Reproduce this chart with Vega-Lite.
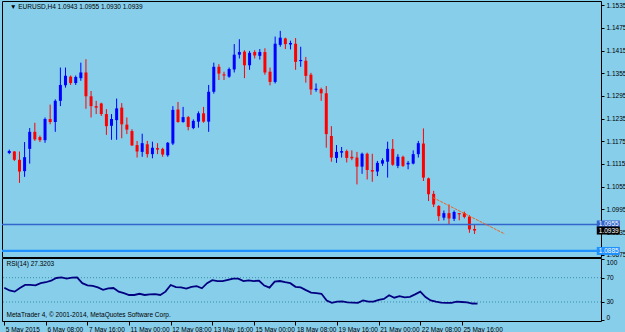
{
 "$schema": "https://vega.github.io/schema/vega-lite/v6.json",
 "background": "#87CEEB",
 "padding": 0,
 "spacing": 1,
 "bounds": "flush",
 "config": {
  "view": {"fill": "#87CEEB", "stroke": "#000000", "strokeWidth": 1},
  "font": "Liberation Sans",
  "axis": {"grid": false, "labelFont": "Liberation Sans", "labelFontSize": 6.5, "labelColor": "#000000", "tickColor": "#000000", "domainColor": "#000000", "tickSize": 3, "labelFlush": false, "labelOverlap": false, "labelBound": false}
 },
 "datasets": {
  "candles": [
   {"i":0,"o":1.1144,"h":1.1153,"l":1.1141,"c":1.1149,"rsi":53.5},
   {"i":1,"o":1.1148,"h":1.1149,"l":1.1123,"c":1.1126,"rsi":49},
   {"i":2,"o":1.1126,"h":1.1148,"l":1.1065,"c":1.1095,"rsi":47},
   {"i":3,"o":1.1096,"h":1.1173,"l":1.1081,"c":1.1133,"rsi":53},
   {"i":4,"o":1.1155,"h":1.1210,"l":1.1116,"c":1.1200,"rsi":58},
   {"i":5,"o":1.1200,"h":1.1224,"l":1.1176,"c":1.1180,"rsi":58},
   {"i":6,"o":1.1186,"h":1.1190,"l":1.1173,"c":1.1178,"rsi":57.5},
   {"i":7,"o":1.1178,"h":1.1238,"l":1.1171,"c":1.1234,"rsi":61},
   {"i":8,"o":1.1234,"h":1.1272,"l":1.1220,"c":1.1226,"rsi":62.5},
   {"i":9,"o":1.1226,"h":1.1286,"l":1.1200,"c":1.1282,"rsi":65},
   {"i":10,"o":1.1282,"h":1.1370,"l":1.1268,"c":1.1324,"rsi":69.5},
   {"i":11,"o":1.1323,"h":1.1370,"l":1.1317,"c":1.1348,"rsi":70.5},
   {"i":12,"o":1.1346,"h":1.1349,"l":1.1324,"c":1.1329,"rsi":68.5},
   {"i":13,"o":1.1329,"h":1.1349,"l":1.1324,"c":1.1345,"rsi":70},
   {"i":14,"o":1.1342,"h":1.1383,"l":1.1335,"c":1.1357,"rsi":70.5},
   {"i":15,"o":1.1357,"h":1.1392,"l":1.1261,"c":1.1294,"rsi":61},
   {"i":16,"o":1.1294,"h":1.1308,"l":1.1238,"c":1.1268,"rsi":57.5},
   {"i":17,"o":1.1268,"h":1.1282,"l":1.1247,"c":1.1264,"rsi":56.5},
   {"i":18,"o":1.1275,"h":1.1277,"l":1.1242,"c":1.1247,"rsi":54},
   {"i":19,"o":1.1247,"h":1.1260,"l":1.1192,"c":1.1215,"rsi":50},
   {"i":20,"o":1.1216,"h":1.1247,"l":1.1179,"c":1.1234,"rsi":52.5},
   {"i":21,"o":1.1231,"h":1.1288,"l":1.1179,"c":1.1262,"rsi":53},
   {"i":22,"o":1.1264,"h":1.1276,"l":1.1183,"c":1.1220,"rsi":47},
   {"i":23,"o":1.1219,"h":1.1238,"l":1.1194,"c":1.1206,"rsi":44.5},
   {"i":24,"o":1.1202,"h":1.1207,"l":1.1163,"c":1.1164,"rsi":41.5},
   {"i":25,"o":1.1165,"h":1.1176,"l":1.1132,"c":1.1148,"rsi":41.5},
   {"i":26,"o":1.1147,"h":1.1195,"l":1.1134,"c":1.1170,"rsi":43.5},
   {"i":27,"o":1.1167,"h":1.1176,"l":1.1132,"c":1.1141,"rsi":41.5},
   {"i":28,"o":1.1141,"h":1.1174,"l":1.1130,"c":1.1158,"rsi":42.5},
   {"i":29,"o":1.1157,"h":1.1170,"l":1.1141,"c":1.1153,"rsi":43},
   {"i":30,"o":1.1155,"h":1.1158,"l":1.1134,"c":1.1140,"rsi":41.5},
   {"i":31,"o":1.1138,"h":1.1173,"l":1.1134,"c":1.1171,"rsi":47},
   {"i":32,"o":1.1169,"h":1.1268,"l":1.1165,"c":1.1258,"rsi":58},
   {"i":33,"o":1.1259,"h":1.1279,"l":1.1224,"c":1.1226,"rsi":54.5},
   {"i":34,"o":1.1226,"h":1.1266,"l":1.1224,"c":1.1239,"rsi":54},
   {"i":35,"o":1.1239,"h":1.1242,"l":1.1204,"c":1.1213,"rsi":52},
   {"i":36,"o":1.1210,"h":1.1233,"l":1.1207,"c":1.1229,"rsi":55},
   {"i":37,"o":1.1227,"h":1.1254,"l":1.1211,"c":1.1249,"rsi":56},
   {"i":38,"o":1.1249,"h":1.1266,"l":1.1224,"c":1.1227,"rsi":52.5},
   {"i":39,"o":1.1227,"h":1.1324,"l":1.1200,"c":1.1306,"rsi":61},
   {"i":40,"o":1.1306,"h":1.1383,"l":1.1301,"c":1.1372,"rsi":66},
   {"i":41,"o":1.1372,"h":1.1379,"l":1.1337,"c":1.1354,"rsi":64.5},
   {"i":42,"o":1.1352,"h":1.1359,"l":1.1337,"c":1.1349,"rsi":64.5},
   {"i":43,"o":1.1346,"h":1.1370,"l":1.1343,"c":1.1366,"rsi":66.5},
   {"i":44,"o":1.1365,"h":1.1432,"l":1.1357,"c":1.1404,"rsi":68.5},
   {"i":45,"o":1.1404,"h":1.1445,"l":1.1394,"c":1.1411,"rsi":68.5},
   {"i":46,"o":1.1412,"h":1.1416,"l":1.1342,"c":1.1376,"rsi":64.5},
   {"i":47,"o":1.1376,"h":1.1414,"l":1.1364,"c":1.1409,"rsi":65.5},
   {"i":48,"o":1.1411,"h":1.1416,"l":1.1394,"c":1.1402,"rsi":64.5},
   {"i":49,"o":1.1401,"h":1.1419,"l":1.1391,"c":1.1411,"rsi":65},
   {"i":50,"o":1.1411,"h":1.1421,"l":1.1351,"c":1.1357,"rsi":57},
   {"i":51,"o":1.1359,"h":1.1370,"l":1.1323,"c":1.1332,"rsi":53.5},
   {"i":52,"o":1.1332,"h":1.1452,"l":1.1328,"c":1.1433,"rsi":63.5},
   {"i":53,"o":1.1430,"h":1.1467,"l":1.1425,"c":1.1449,"rsi":64.5},
   {"i":54,"o":1.1447,"h":1.1449,"l":1.1419,"c":1.1432,"rsi":62.5},
   {"i":55,"o":1.1431,"h":1.1441,"l":1.1418,"c":1.1435,"rsi":61},
   {"i":56,"o":1.1433,"h":1.1448,"l":1.1364,"c":1.1385,"rsi":55},
   {"i":57,"o":1.1387,"h":1.1425,"l":1.1372,"c":1.1390,"rsi":54},
   {"i":58,"o":1.1388,"h":1.1398,"l":1.1330,"c":1.1348,"rsi":49.5},
   {"i":59,"o":1.1351,"h":1.1356,"l":1.1298,"c":1.1312,"rsi":45.5},
   {"i":60,"o":1.1311,"h":1.1328,"l":1.1306,"c":1.1314,"rsi":44.5},
   {"i":61,"o":1.1313,"h":1.1317,"l":1.1282,"c":1.1302,"rsi":43.5},
   {"i":62,"o":1.1302,"h":1.1321,"l":1.1158,"c":1.1194,"rsi":32.5},
   {"i":63,"o":1.1189,"h":1.1215,"l":1.1121,"c":1.1132,"rsi":28.5},
   {"i":64,"o":1.1131,"h":1.1165,"l":1.1118,"c":1.1147,"rsi":30.5},
   {"i":65,"o":1.1145,"h":1.1160,"l":1.1132,"c":1.1149,"rsi":31},
   {"i":66,"o":1.1149,"h":1.1153,"l":1.1119,"c":1.1131,"rsi":29.5},
   {"i":67,"o":1.1134,"h":1.1151,"l":1.1125,"c":1.1130,"rsi":29},
   {"i":68,"o":1.1132,"h":1.1147,"l":1.1061,"c":1.1108,"rsi":28.5},
   {"i":69,"o":1.1108,"h":1.1145,"l":1.1089,"c":1.1142,"rsi":32.5},
   {"i":70,"o":1.1142,"h":1.1145,"l":1.1074,"c":1.1099,"rsi":30.5},
   {"i":71,"o":1.1099,"h":1.1142,"l":1.1068,"c":1.1095,"rsi":30.5},
   {"i":72,"o":1.1095,"h":1.1123,"l":1.1083,"c":1.1118,"rsi":33.5},
   {"i":73,"o":1.1116,"h":1.1130,"l":1.1110,"c":1.1125,"rsi":35},
   {"i":74,"o":1.1121,"h":1.1174,"l":1.1079,"c":1.1155,"rsi":41},
   {"i":75,"o":1.1155,"h":1.1181,"l":1.1110,"c":1.1113,"rsi":37},
   {"i":76,"o":1.1110,"h":1.1141,"l":1.1104,"c":1.1134,"rsi":39.5},
   {"i":77,"o":1.1134,"h":1.1137,"l":1.1107,"c":1.1110,"rsi":37.5},
   {"i":78,"o":1.1114,"h":1.1123,"l":1.1101,"c":1.1118,"rsi":38.5},
   {"i":79,"o":1.1116,"h":1.1151,"l":1.1114,"c":1.1141,"rsi":42.5},
   {"i":80,"o":1.1141,"h":1.1176,"l":1.1132,"c":1.1170,"rsi":47},
   {"i":81,"o":1.1169,"h":1.1209,"l":1.1070,"c":1.1079,"rsi":38},
   {"i":82,"o":1.1077,"h":1.1079,"l":1.1017,"c":1.1035,"rsi":32.5},
   {"i":83,"o":1.1036,"h":1.1044,"l":1.1001,"c":1.1008,"rsi":30.5},
   {"i":84,"o":1.1004,"h":1.1006,"l":1.0964,"c":1.0977,"rsi":29},
   {"i":85,"o":1.0973,"h":1.0992,"l":1.0966,"c":1.0985,"rsi":28.5},
   {"i":86,"o":1.0985,"h":1.1008,"l":1.0955,"c":1.0971,"rsi":28.5},
   {"i":87,"o":1.0970,"h":1.0992,"l":1.0964,"c":1.0988,"rsi":30.5},
   {"i":88,"o":1.0985,"h":1.0985,"l":1.0966,"c":1.0982,"rsi":30},
   {"i":89,"o":1.0985,"h":1.0989,"l":1.0971,"c":1.0975,"rsi":29.5},
   {"i":90,"o":1.0976,"h":1.0980,"l":1.0933,"c":1.0942,"rsi":27.5},
   {"i":91,"o":1.0943,"h":1.0955,"l":1.0930,"c":1.0939,"rsi":27.3203}
  ],
  "levels": [
   {"p":1.0955,"label":"1.0955","kind":"a"},
   {"p":1.0885,"label":"1.0885","kind":"b"},
   {"p":1.0939,"label":"1.0939","kind":"bid"}
  ],
  "trend": [
   {"i":82.9,"p":1.1026},
   {"i":96.9,"p":1.0930}
  ],
  "rsilev": [{"v":70},{"v":30}]
 },
 "vconcat": [
  {
   "width": 599,
   "height": 256,
   "layer": [
    {
     "data": {"name": "candles"},
     "mark": {"type": "rule", "strokeWidth": 1},
     "encoding": {
      "x": {"field": "i", "type": "quantitative", "scale": {"domain": [-0.44, 114.75], "nice": false, "zero": false}, "axis": null},
      "y": {"field": "l", "type": "quantitative", "scale": {"domain": [1.0869, 1.1546], "nice": false, "zero": false},
            "axis": {"orient": "right", "title": null, "values": [1.1535,1.1475,1.1415,1.1355,1.1295,1.1235,1.1175,1.1115,1.1055,1.0995,1.0935,1.0875], "tickCount": 100, "format": ".4f", "domain": false, "labelPadding": 2, "labelOverlap": false, "labelFlush": false, "labelBound": false}},
      "y2": {"field": "h"},
      "color": {"condition": {"test": "datum.c >= datum.o", "value": "#0000FF"}, "value": "#FF0000"}
     }
    },
    {
     "data": {"name": "candles"},
     "mark": {"type": "bar", "size": 3},
     "encoding": {
      "x": {"field": "i", "type": "quantitative", "axis": null},
      "y": {"field": "o", "type": "quantitative", "axis": {"title": null, "tickCount": 100}},
      "y2": {"field": "c"},
      "color": {"condition": {"test": "datum.c >= datum.o", "value": "#0000FF"}, "value": "#FF0000"}
     }
    },
    {
     "data": {"name": "levels"},
     "transform": [{"filter": "datum.kind != 'bid'"}],
     "mark": {"type": "rule"},
     "encoding": {
      "y": {"field": "p", "type": "quantitative", "axis": {"title": null, "tickCount": 100}},
      "color": {"field": "kind", "type": "nominal", "scale": {"domain": ["a", "b", "bid"], "range": ["#3366CC", "#1E90FF", "#000000"]}, "legend": null},
      "strokeWidth": {"condition": {"test": "datum.kind == 'b'", "value": 2.2}, "value": 1.3}
     }
    },
    {
     "data": {"name": "trend"},
     "mark": {"type": "line", "color": "#EE6420", "strokeWidth": 1, "strokeDash": [3, 1]},
     "encoding": {
      "x": {"field": "i", "type": "quantitative", "axis": null},
      "y": {"field": "p", "type": "quantitative", "axis": {"title": null, "tickCount": 100}}
     }
    },
    {
     "data": {"name": "levels"},
     "mark": {"type": "tick", "orient": "horizontal", "size": 23, "thickness": 8, "opacity": 1},
     "encoding": {
      "x": {"datum": 117.15, "type": "quantitative", "axis": null},
      "y": {"field": "p", "type": "quantitative", "axis": {"title": null, "tickCount": 100}},
      "color": {"field": "kind", "type": "nominal", "legend": null}
     }
    },
    {
     "data": {"name": "levels"},
     "mark": {"type": "text", "align": "left", "baseline": "middle", "dx": 1, "fontSize": 6.5, "color": "#FFFFFF"},
     "encoding": {
      "x": {"datum": 115.1, "type": "quantitative", "axis": null},
      "y": {"field": "p", "type": "quantitative", "axis": {"title": null, "tickCount": 100}},
      "text": {"field": "label"}
     }
    },
    {
     "data": {"values": [{"s": "▼  EURUSD,H4  1.0943 1.0955 1.0930 1.0939"}]},
     "mark": {"type": "text", "align": "left", "baseline": "middle", "dx": 3, "fontSize": 6.5, "color": "#000000"},
     "encoding": {
      "x": {"datum": -0.44, "type": "quantitative", "axis": null},
      "y": {"datum": 1.1529, "type": "quantitative", "axis": {"title": null, "tickCount": 100}},
      "text": {"field": "s"}
     }
    }
   ]
  },
  {
   "width": 599,
   "height": 63,
   "layer": [
    {
     "data": {"name": "rsilev"},
     "mark": {"type": "rule", "strokeDash": [1, 2], "color": "#3A8FA8", "strokeWidth": 1},
     "encoding": {
      "y": {"field": "v", "type": "quantitative", "scale": {"domain": [-1.3, 102.4], "nice": false, "zero": false},
            "axis": {"orient": "right", "title": null, "values": [100, 70, 30, 0], "tickCount": 100, "domain": false, "labelPadding": 2, "labelOverlap": false, "labelFlush": 5, "labelBound": false}}
     }
    },
    {
     "data": {"name": "candles"},
     "mark": {"type": "line", "color": "#000080", "strokeWidth": 1.8},
     "encoding": {
      "x": {"field": "i", "type": "quantitative", "scale": {"domain": [-0.44, 114.75], "nice": false, "zero": false},
            "axis": {"title": null, "values": [0,8,16,24,32,40,48,56,64,72,80,88], "tickCount": 100, "labelExpr": "['5 May 2015','6 May 08:00','7 May 16:00','11 May 00:00','12 May 08:00','13 May 16:00','15 May 00:00','18 May 08:00','19 May 16:00','21 May 00:00','22 May 08:00','25 May 16:00'][round(datum.value/8)]", "labelAlign": "left", "labelOffset": 1, "tickSize": 4, "labelPadding": 1, "domain": false, "labelOverlap": false, "labelFlush": false}},
      "y": {"field": "rsi", "type": "quantitative", "axis": {"title": null, "tickCount": 100, "labelFlush": 5}}
     }
    },
    {
     "data": {"values": [{"s": "RSI(14) 27.3203"}]},
     "mark": {"type": "text", "align": "left", "baseline": "middle", "dx": 4.5, "fontSize": 6.5, "color": "#000000"},
     "encoding": {
      "x": {"datum": -0.44, "type": "quantitative"},
      "y": {"datum": 92.5, "type": "quantitative"},
      "text": {"field": "s"}
     }
    },
    {
     "data": {"values": [{"s": "MetaTrader 4, © 2001-2014, MetaQuotes Software Corp."}]},
     "mark": {"type": "text", "align": "left", "baseline": "middle", "dx": 4.5, "fontSize": 6.5, "color": "#000000"},
     "encoding": {
      "x": {"datum": -0.44, "type": "quantitative"},
      "y": {"datum": 8.5, "type": "quantitative"},
      "text": {"field": "s"}
     }
    }
   ]
  }
 ]
}
